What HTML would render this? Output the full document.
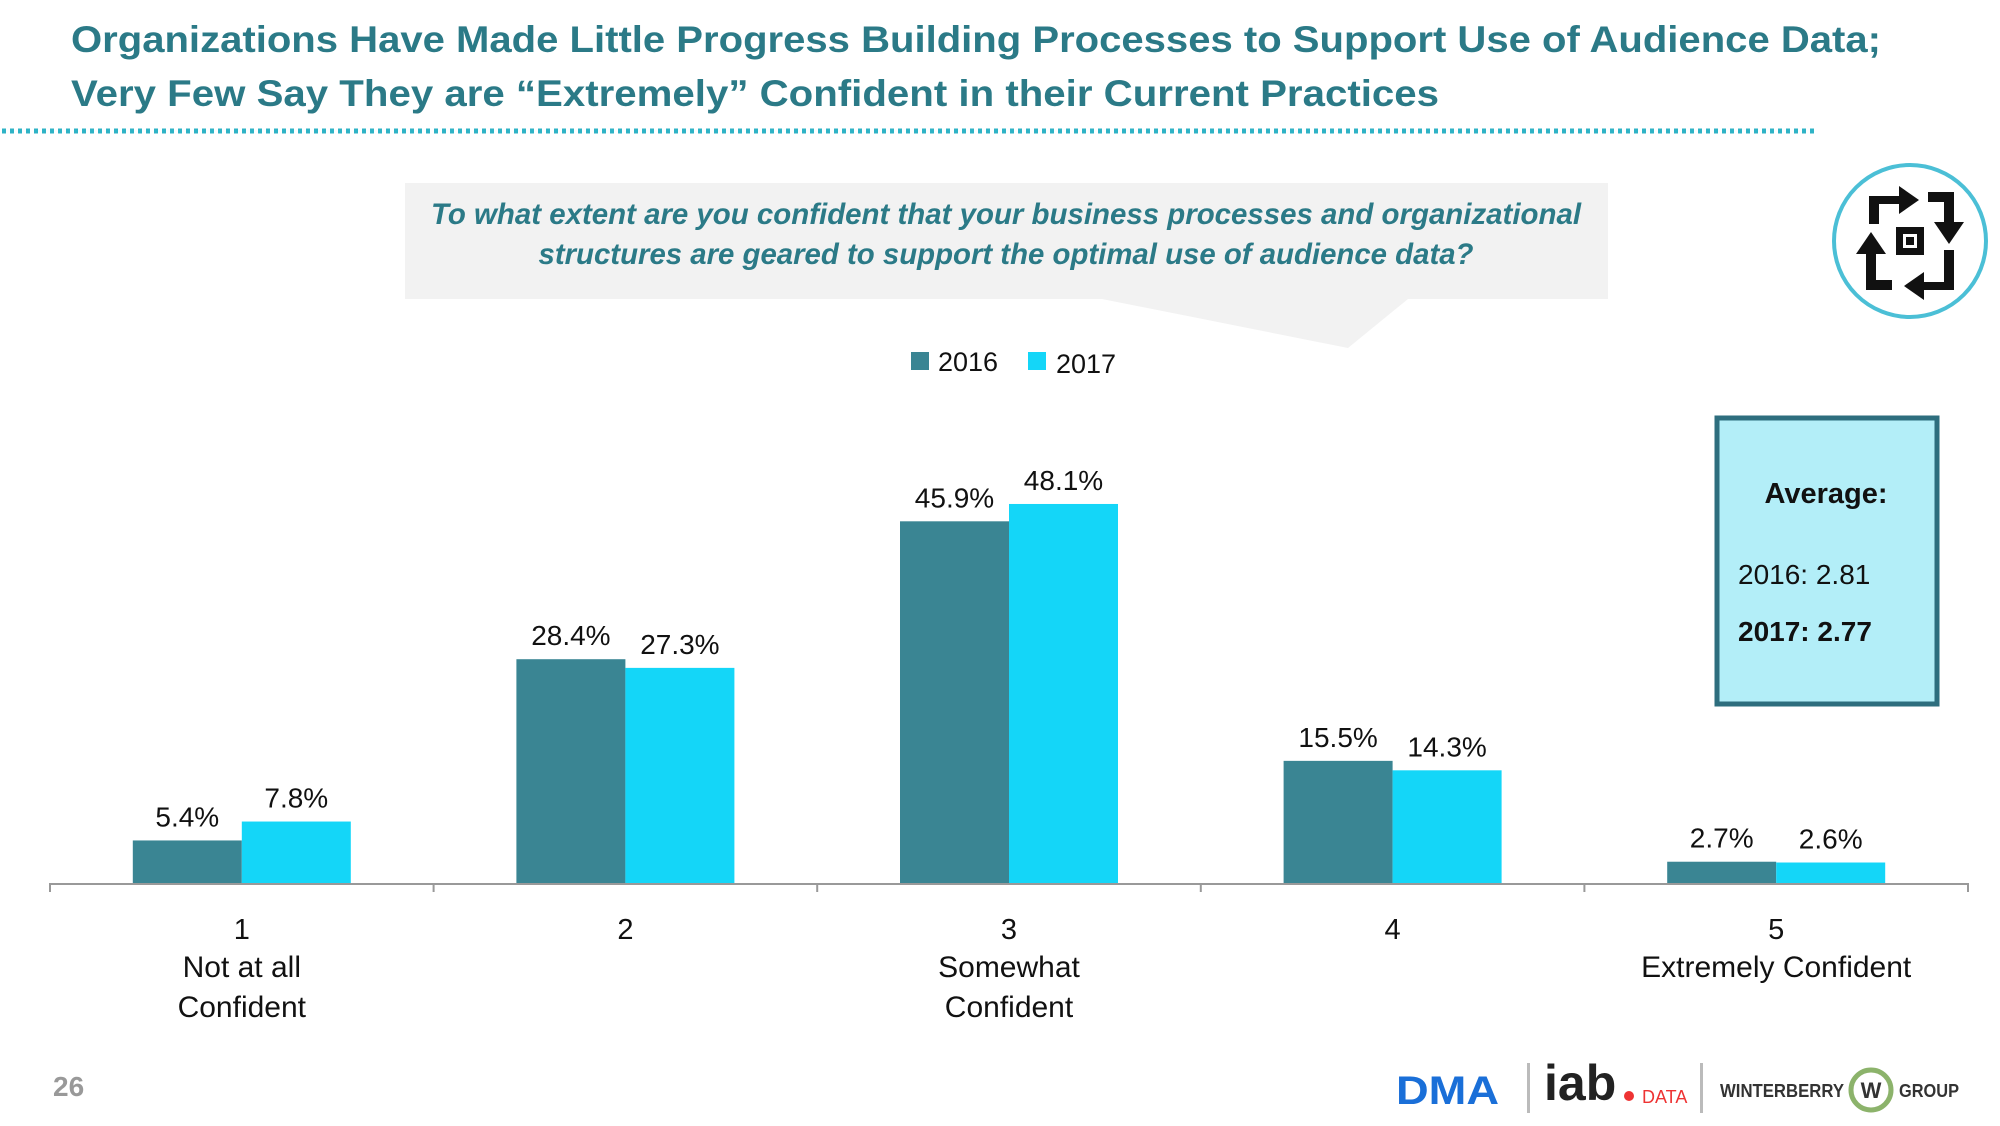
<!DOCTYPE html>
<html><head><meta charset="utf-8"><style>
html,body{margin:0;padding:0;background:#fff;}
svg{display:block;font-family:"Liberation Sans",sans-serif;}
</style></head><body>
<svg id="chart" width="2000" height="1126" viewBox="0 0 2000 1126" xmlns="http://www.w3.org/2000/svg">
<g fill="#2b7a87" font-weight="bold" font-size="37">
<text x="71" y="52" textLength="1810" lengthAdjust="spacingAndGlyphs">Organizations Have Made Little Progress Building Processes to Support Use of Audience Data;</text>
<text x="71" y="106" textLength="1368" lengthAdjust="spacingAndGlyphs">Very Few Say They are “Extremely” Confident in their Current Practices</text>
</g>
<line x1="2" y1="131" x2="1817" y2="131" stroke="#2fb3c6" stroke-width="5" stroke-dasharray="4 4"/>
<g>
<polygon points="405,183 1608,183 1608,299 1408,299 1348,348 1102,299 405,299" fill="#f2f2f2"/>
<g fill="#2b7a87" font-style="italic" font-weight="bold" font-size="30">
<text x="1006" y="224" text-anchor="middle" textLength="1150" lengthAdjust="spacingAndGlyphs">To what extent are you confident that your business processes and organizational</text>
<text x="1006" y="264" text-anchor="middle" textLength="935" lengthAdjust="spacingAndGlyphs">structures are geared to support the optimal use of audience data?</text>
</g></g>
<g>
<ellipse cx="1910" cy="241" rx="76" ry="76" fill="#fff" stroke="#4bbfd6" stroke-width="4"/>
<g fill="#111">
<rect x="1896" y="227" width="28" height="28"/><rect x="1903" y="234" width="14" height="14" fill="#fff"/><rect x="1906" y="237" width="8" height="8"/>
<path d="M1869 196h30v-10l20 14-20 14v-10h-20v20h-10z"/>
<path d="M1928 192h26v30h10l-15 22-15-22h10v-20h-16z"/>
<path d="M1954 250v40h-30v10l-20-14 20-14v10h20v-32z"/>
<path d="M1892 290h-26v-36h-10l15-22 15 22h-10v26h16z"/>
</g></g>
<g font-size="27" fill="#111">
<rect x="911" y="352" width="18" height="18" fill="#3a8593"/>
<text x="938" y="371">2016</text>
<rect x="1028" y="352" width="18" height="18" fill="#14d6f8"/>
<text x="1056" y="373">2017</text>
</g>
<g id="plot"></g>
<g>
<rect x="1717" y="418" width="220" height="286" fill="#b3eef8" stroke="#2e6e7e" stroke-width="5"/>
<text x="1826" y="503" text-anchor="middle" font-size="29" font-weight="bold" fill="#111">Average:</text>
<text x="1738" y="584" font-size="28" fill="#111">2016: 2.81</text>
<text x="1738" y="641" font-size="28" font-weight="bold" fill="#111">2017: 2.77</text>
</g>
<text x="53" y="1096" font-size="28" font-weight="bold" fill="#999">26</text>
<g>
<text x="1396" y="1104" font-size="40" font-weight="bold" fill="#1a6fd8" textLength="103" lengthAdjust="spacingAndGlyphs">DMA</text>
<rect x="1527" y="1063" width="3" height="50" fill="#bbb"/>
<text x="1544" y="1100" font-size="50" font-weight="bold" fill="#222">iab</text>
<circle cx="1629" cy="1096" r="5" fill="#e33"/>
<text x="1642" y="1103" font-size="18" fill="#e33">DATA</text>
<rect x="1700" y="1063" width="3" height="50" fill="#bbb"/>
<text x="1720" y="1097" font-size="18" font-weight="bold" fill="#333" textLength="124" lengthAdjust="spacingAndGlyphs">WINTERBERRY</text>
<circle cx="1871" cy="1090" r="20" fill="#fff" stroke="#8cb36b" stroke-width="5"/>
<text x="1871" y="1098" font-size="22" font-weight="bold" fill="#333" text-anchor="middle">W</text>
<text x="1899" y="1097" font-size="18" font-weight="bold" fill="#333" textLength="60" lengthAdjust="spacingAndGlyphs">GROUP</text>
</g>
</svg>
<script>
const categories = ["1","2","3","4","5"];
const subLabels = [["Not at all","Confident"],[],["Somewhat","Confident"],[],["Extremely Confident"]];
const values2016 = [5.4,28.4,45.9,15.5,2.7];
const values2017 = [7.8,27.3,48.1,14.3,2.6];
const ns="http://www.w3.org/2000/svg";
const plot=document.getElementById('plot');
const x0=50,x1=1968,baseY=883,pxPer=7.88,barW=109;
const bandW=(x1-x0)/categories.length;
function xCenter(i){return x0+bandW*(i+0.5);}
function yScale(v){return baseY-v*pxPer;}
function mk(tag,attrs){const e=document.createElementNS(ns,tag);for(const k in attrs)e.setAttribute(k,attrs[k]);plot.appendChild(e);return e;}
categories.forEach((c,i)=>{
  const cx=xCenter(i);
  [[values2016,'#3a8593',-barW,'2016'],[values2017,'#14d6f8',0,'2017']].forEach(([arr,col,off,yr])=>{
    const v=arr[i];
    const r=mk('rect',{x:cx+off,y:yScale(v),width:barW,height:v*pxPer,fill:col});
    
    
    const t=mk('text',{x:cx+off+barW/2,y:yScale(v)-14,'text-anchor':'middle','font-size':'28',fill:'#111'});
    
    
    t.textContent=v.toFixed(1)+'%';
  });
  const n=mk('text',{x:cx,y:939,'text-anchor':'middle','font-size':'29',fill:'#111'});
  
  
  n.textContent=c;
  subLabels[i].forEach((s,j)=>{
    const t=mk('text',{x:cx,y:977+j*40,'text-anchor':'middle','font-size':'30',fill:'#111'});
    
    
    t.textContent=s;
  });
});
const ax=mk('line',{x1:x0,y1:baseY+1,x2:x1,y2:baseY+1,stroke:'#999','stroke-width':'2'});


for(let i=0;i<=categories.length;i++){
  const tk=mk('line',{x1:x0+bandW*i,y1:baseY,x2:x0+bandW*i,y2:baseY+9,stroke:'#999','stroke-width':'2'});
  
  
}
</script>
</body></html>
